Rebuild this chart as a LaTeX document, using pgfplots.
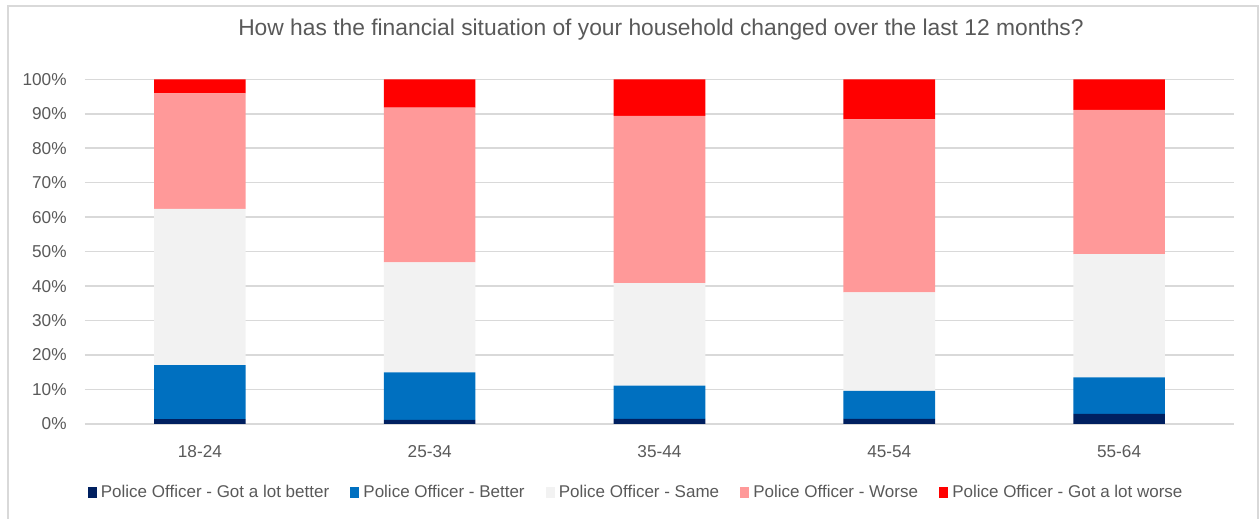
\documentclass[border=0pt]{standalone}
\usepackage{fontspec}
\setmainfont{Liberation Sans}
\usepackage{pgfplots}
\pgfplotsset{compat=1.18}
\definecolor{txt}{HTML}{595959}
\definecolor{gridc}{HTML}{D9D9D9}
\definecolor{cA}{HTML}{002060}
\definecolor{cB}{HTML}{0070C0}
\definecolor{cC}{HTML}{F2F2F2}
\definecolor{cD}{HTML}{FF9999}
\definecolor{cE}{HTML}{FF0000}
\begin{document}
\begin{tikzpicture}
\useasboundingbox (0,0) rectangle (630pt,259.5pt);
\draw[gridc, line width=1pt] (3.75pt,0) -- (3.75pt,256.5pt) -- (628.8pt,256.5pt) -- (628.8pt,0);
\begin{axis}[
  at={(42.5pt,47.5pt)}, anchor=south west,
  scale only axis, width=574.5pt, height=172.35pt,
  ybar stacked, bar width=45.8pt,
  xmin=-0.5, xmax=4.5, ymin=0, ymax=100,
  xtick={0,1,2,3,4},
  xticklabels={18-24,25-34,35-44,45-54,55-64},
  ytick={0,10,...,100},
  yticklabel={\pgfmathprintnumber{\tick}\%},
  /pgf/number format/assume math mode=true,
  axis line style={draw=none},
  tick style={draw=none},
  ymajorgrids, major grid style={gridc, line width=0.75pt},
  major tick length=0pt,
  ticklabel style={font=\fontsize{8.6}{10}\selectfont, text=txt},
  xticklabel style={anchor=center, inner sep=0pt, yshift=-14pt},
  yticklabel style={anchor=east, inner sep=0pt, xshift=-9pt},
  title={How has the financial situation of your household changed over the last 12 months?},
  title style={at={(rel axis cs:0.5013,1.108)}, anchor=center, yshift=0pt, font=\fontsize{11.4}{13}\selectfont, text=txt, inner sep=0pt},
  legend columns=5,
  legend style={at={(rel axis cs:0.4805,-0.2)}, anchor=center, draw=none, fill=none,
    font=\fontsize{8.5}{10}\selectfont, text=txt,
    /tikz/every even column/.append style={column sep=8.5pt}},
  legend image code/.code={\fill[#1] (0pt,-2.75pt) rectangle (4.6pt,2.75pt);},
  every axis plot/.append style={draw=none},
]
\addplot[fill=cA] coordinates {(0,1.4) (1,1.2) (2,1.45) (3,1.45) (4,2.9)};
\addplot[fill=cB] coordinates {(0,15.7) (1,13.8) (2,9.65) (3,8.15) (4,10.6)};
\addplot[fill=cC] coordinates {(0,45.3) (1,31.9) (2,29.8) (3,28.6) (4,35.8)};
\addplot[fill=cD] coordinates {(0,33.5) (1,44.9) (2,48.5) (3,50.2) (4,41.8)};
\addplot[fill=cE] coordinates {(0,4.1) (1,8.2) (2,10.6) (3,11.6) (4,8.9)};
\legend{Police Officer - Got a lot better, Police Officer - Better, Police Officer - Same, Police Officer - Worse, Police Officer - Got a lot worse}
\end{axis}
\end{tikzpicture}
\end{document}
